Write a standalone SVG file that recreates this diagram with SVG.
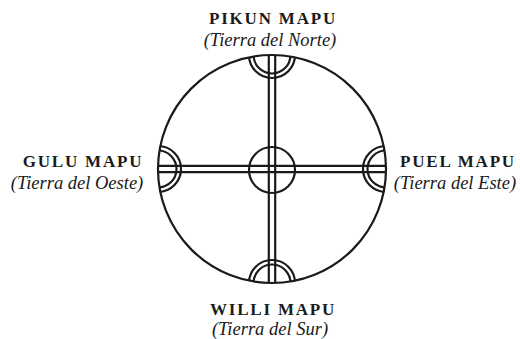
<svg xmlns="http://www.w3.org/2000/svg" width="520" height="339" viewBox="0 0 520 339">
<style>
.s{fill:none;stroke:#1a1a1a;stroke-width:2.2}
.b{font-family:"Liberation Serif",serif;font-weight:bold;font-size:17px;letter-spacing:1.8px;fill:#1a1a1a;text-anchor:middle}
.i{font-family:"Liberation Serif",serif;font-style:italic;font-size:18.5px;fill:#1a1a1a;text-anchor:middle}
</style>
<defs>
<clipPath id="c"><circle cx="272" cy="169" r="114"/></clipPath>
</defs>
<rect width="520" height="339" fill="#fff"/>
<g id="connectors" clip-path="url(#c)">
<line class="s" x1="268.8" y1="40" x2="268.8" y2="300"/>
<line class="s" x1="275.2" y1="40" x2="275.2" y2="300"/>
<line class="s" x1="140" y1="165.8" x2="400" y2="165.8"/>
<line class="s" x1="140" y1="172.2" x2="400" y2="172.2"/>
</g>
<g id="ring"><circle class="s" cx="272" cy="169" r="114"/></g>
<g id="center"><circle class="s" cx="272" cy="170" r="23"/></g>
<g id="pikun">
<g clip-path="url(#c)"><circle class="s" cx="272" cy="55" r="23"/><circle class="s" cx="272" cy="55" r="18.5"/></g>
<text class="b" x="273" y="24">PIKUN MAPU</text>
<text class="i" x="270" y="46">(Tierra del Norte)</text>
</g>
<g id="willi">
<g clip-path="url(#c)"><circle class="s" cx="272" cy="283" r="23"/><circle class="s" cx="272" cy="283" r="18.5"/></g>
<text class="b" x="273" y="315">WILLI MAPU</text>
<text class="i" x="270" y="334.5">(Tierra del Sur)</text>
</g>
<g id="gulu">
<g clip-path="url(#c)"><circle class="s" cx="158" cy="169" r="23"/><circle class="s" cx="158" cy="169" r="18.5"/></g>
<text class="b" x="83" y="167">GULU MAPU</text>
<text class="i" x="77" y="188.5">(Tierra del Oeste)</text>
</g>
<g id="puel">
<g clip-path="url(#c)"><circle class="s" cx="386" cy="169" r="23"/><circle class="s" cx="386" cy="169" r="18.5"/></g>
<text class="b" x="458" y="167">PUEL MAPU</text>
<text class="i" x="455" y="188.5">(Tierra del Este)</text>
</g>
</svg>
